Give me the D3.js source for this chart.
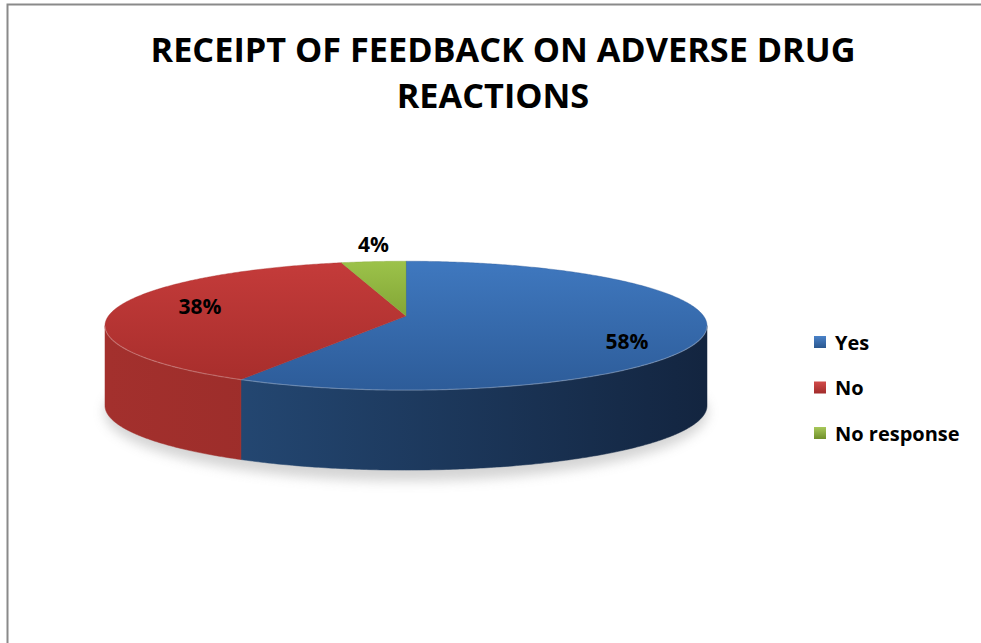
<!DOCTYPE html>
<html><head><meta charset="utf-8">
<script src="https://cdn.jsdelivr.net/npm/d3@7"></script>
<style>html,body{margin:0;padding:0;background:#fff;}svg{display:block;}</style>
</head><body>
<svg id="chart" width="981" height="643"></svg>
<script>
const categories = ["Yes", "No", "No response"];
const values = [58, 38, 4];
const labels = ["58%", "38%", "4%"];
const titleLines = ["RECEIPT OF FEEDBACK ON ADVERSE DRUG", "REACTIONS"];

const topColors = [["#3f78bf", "#2d5c99"], ["#c43b3a", "#a82e2c"], ["#9cc24a", "#83a636"]];
const sideColors = [["#28507f", "#132540"], ["#a3302d", "#8a2523"], ["#6f8f2a", "#5a7522"]];
const legendColors = [["#4a82c8", "#2a578f"], ["#d24b4a", "#a12c2b"], ["#a8c85a", "#6f8f2a"]];

const svg = d3.select("#chart");
const W = 981, H = 643;
const font = "'Open Sans', Lato, sans-serif";

// border
svg.append("path").attr("d", `M7.5,${H+2} L7.5,4.5 L${W+2},4.5`).attr("fill", "none")
  .attr("stroke", "#8a8a8a").attr("stroke-width", 2);

// title
const title = svg.append("g").selectAll("text").data(titleLines).join("text")
  .attr("x", (d, i) => i === 0 ? 503 : 493).attr("y", (d, i) => 62 + i * 46)
  .attr("text-anchor", "middle").attr("font-family", font).attr("font-weight", 700)
  .attr("font-size", 30).attr("fill", "#000").text(d => d);
const w0 = title.node().getComputedTextLength();
if (w0 > 0) title.attr("font-size", Math.min(35, 30 * 705 / w0));

// 3D pie geometry (mild perspective)
const cx = 406, cy = 316, rx = 297.6, ry = 63, depth = 80, persp = 0.15;
const defs = svg.append("defs");
const blur = defs.append("filter").attr("id", "shadow").attr("x", "-20%").attr("y", "-50%").attr("width", "140%").attr("height", "200%");
blur.append("feGaussianBlur").attr("stdDeviation", 6);

values.forEach((v, i) => {
  const gt = defs.append("linearGradient").attr("id", "top" + i).attr("x1", 0).attr("y1", 0).attr("x2", 0).attr("y2", 1);
  gt.append("stop").attr("offset", 0).attr("stop-color", topColors[i][0]);
  gt.append("stop").attr("offset", 1).attr("stop-color", topColors[i][1]);
  const gs = defs.append("linearGradient").attr("id", "side" + i).attr("gradientUnits", "userSpaceOnUse")
    .attr("x1", cx - rx).attr("y1", 0).attr("x2", cx + rx).attr("y2", 0);
  gs.append("stop").attr("offset", 0).attr("stop-color", sideColors[i][0]);
  gs.append("stop").attr("offset", 1).attr("stop-color", sideColors[i][1]);
  const gl = defs.append("linearGradient").attr("id", "leg" + i).attr("x1", 0).attr("y1", 0).attr("x2", 0).attr("y2", 1);
  gl.append("stop").attr("offset", 0).attr("stop-color", legendColors[i][0]);
  gl.append("stop").attr("offset", 1).attr("stop-color", legendColors[i][1]);
});

// shadow under pie
svg.append("ellipse").attr("cx", cx).attr("cy", cy + depth + 16).attr("rx", rx + 4).attr("ry", ry + 6)
  .attr("fill", "#a0a0a0").attr("opacity", 0.45).attr("filter", "url(#shadow)");

const pie = d3.pie().sort(null).startAngle(0).endAngle(2 * Math.PI)(values);
const pt = (a, dy = 0, f = 1) => {
  const s = 1 / (1 + persp * Math.cos(a));
  return [cx + f * rx * Math.sin(a) * s, cy - f * ry * Math.cos(a) * s + dy];
};

function arcPts(a0, a1, dy = 0) {
  const n = Math.max(4, Math.ceil((a1 - a0) / 0.01));
  return d3.range(n + 1).map(k => pt(a0 + (a1 - a0) * k / n, dy));
}

// sides: visible between the two silhouette angles
const silA = Math.acos(-persp), silB = 2 * Math.PI - silA;
const sides = svg.append("g");
pie.forEach((d, i) => {
  const a0 = Math.max(d.startAngle, silA), a1 = Math.min(d.endAngle, silB);
  if (a1 <= a0) return;
  const topArc = arcPts(a0, a1), botArc = arcPts(a0, a1, depth).reverse();
  sides.append("path").attr("d", d3.line()(topArc.concat(botArc)) + "Z")
    .attr("fill", `url(#side${i})`).attr("stroke", `url(#side${i})`).attr("stroke-width", 0.5);
});

// tops
const tops = svg.append("g");
pie.forEach((d, i) => {
  const p = [[cx, cy]].concat(arcPts(d.startAngle, d.endAngle));
  tops.append("path").attr("d", d3.line()(p) + "Z")
    .attr("fill", `url(#top${i})`).attr("stroke", topColors[i][1]).attr("stroke-width", 0.4);
});
// rim highlight
svg.append("path").attr("d", d3.line()(arcPts(silA, silB)))
  .attr("fill", "none").attr("stroke", "#ffffff").attr("stroke-opacity", 0.25).attr("stroke-width", 1.2);

// data labels
const lab = svg.append("g").attr("font-family", font).attr("font-weight", 700).attr("font-size", 21).attr("fill", "#000");
pie.forEach((d, i) => {
  const mid = (d.startAngle + d.endAngle) / 2;
  const s = 1 / (1 + persp * Math.cos(mid));
  let x, y;
  if (d.value < 10) {
    const p = pt(mid);
    x = p[0]; y = p[1] - 18;
  } else {
    x = cx + 4 + 0.725 * rx * Math.sin(mid) * s;
    y = cy + 1 - 0.725 * 2 * ry * Math.cos(mid) * s;
  }
  lab.append("text").attr("x", x).attr("y", y).attr("text-anchor", "middle")
    .attr("dominant-baseline", "central").text(labels[i]);
});

// legend
const leg = svg.append("g").attr("transform", "translate(814,336)");
const items = leg.selectAll("g").data(categories).join("g").attr("transform", (d, i) => `translate(0,${i * 45.5})`);
items.append("rect").attr("width", 12).attr("height", 12).attr("fill", (d, i) => `url(#leg${i})`);
items.append("text").attr("x", 21).attr("y", 6).attr("dominant-baseline", "central")
  .attr("font-family", font).attr("font-weight", 700).attr("font-size", 20).attr("fill", "#000").text(d => d);
</script>
</body></html>
